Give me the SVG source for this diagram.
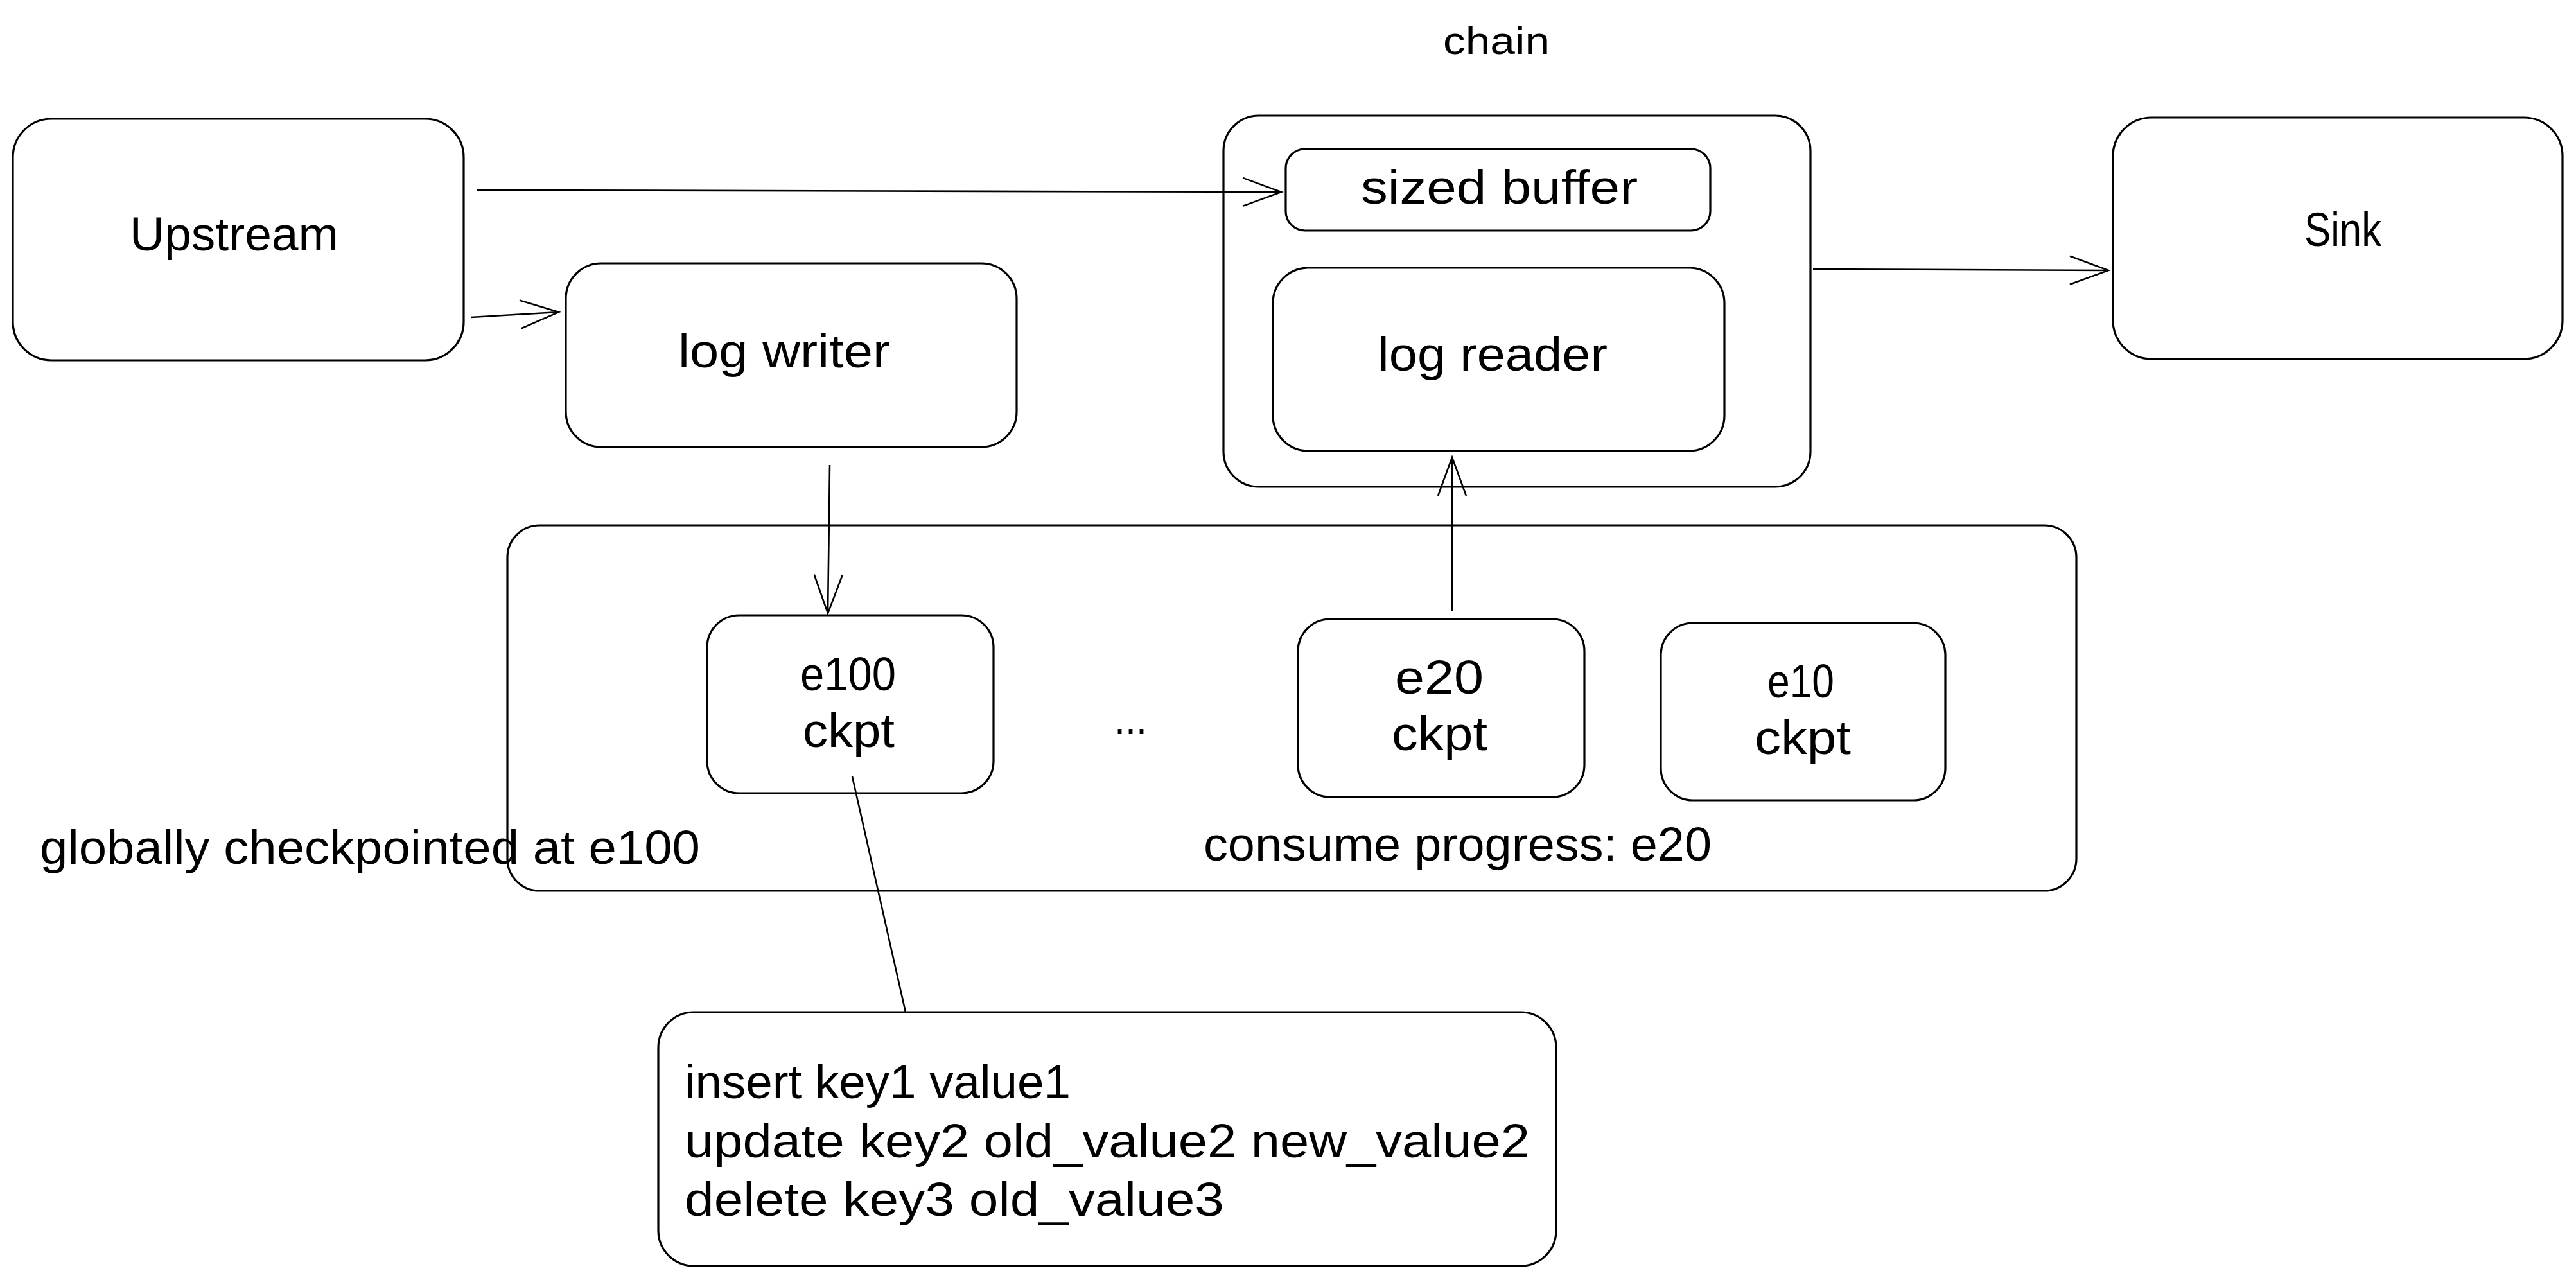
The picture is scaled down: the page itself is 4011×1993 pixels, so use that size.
<svg xmlns="http://www.w3.org/2000/svg" width="4011" height="1993" viewBox="0 0 4011 1993">
<defs>
<style>
.box{fill:#ffffff;stroke:#000000;stroke-width:3.2}
.lbl{font-family:"Liberation Sans",Arial,sans-serif;font-size:74px;fill:#000000}
.small{font-size:60px}
.conn{fill:none;stroke:#000000;stroke-width:2.6}
</style>
<marker id="arrow" markerUnits="userSpaceOnUse" markerWidth="80" markerHeight="60" viewBox="-70 -30 80 60" refX="0" refY="0" orient="auto" overflow="visible">
<path d="M -60 -22 L 0 0 L -60 22" fill="none" stroke="#000000" stroke-width="2.6"/>
</marker>
</defs>
<rect width="4011" height="1993" fill="#ffffff"/>

<g id="storage">
<rect class="box" x="790" y="818" width="2443" height="569" rx="50" ry="50"/>
<text class="lbl" x="62" y="1345" textLength="1028" lengthAdjust="spacingAndGlyphs">globally checkpointed at e100</text>
<text class="lbl" x="1874" y="1340" textLength="791" lengthAdjust="spacingAndGlyphs">consume progress: e20</text>
<text class="lbl" x="1735" y="1143" textLength="51" lengthAdjust="spacingAndGlyphs">...</text>
</g>

<g id="upstream">
<rect class="box" x="20" y="185" width="702" height="376" rx="60" ry="60"/>
<text class="lbl" x="202" y="390" textLength="325" lengthAdjust="spacingAndGlyphs">Upstream</text>
</g>

<g id="log-writer">
<rect class="box" x="881" y="410" width="702" height="286" rx="55" ry="55"/>
<text class="lbl" x="1056" y="572" textLength="330" lengthAdjust="spacingAndGlyphs">log writer</text>
</g>

<g id="chain">
<rect class="box" x="1905" y="180" width="914" height="578" rx="55" ry="55"/>
<text class="lbl small" x="2247" y="84" textLength="166" lengthAdjust="spacingAndGlyphs">chain</text>
</g>

<g id="sized-buffer">
<rect class="box" x="2002" y="232" width="661" height="127" rx="30" ry="30"/>
<text class="lbl" x="2119" y="317" textLength="431" lengthAdjust="spacingAndGlyphs">sized buffer</text>
</g>

<g id="log-reader">
<rect class="box" x="1982" y="417" width="703" height="285" rx="55" ry="55"/>
<text class="lbl" x="2145" y="577" textLength="358" lengthAdjust="spacingAndGlyphs">log reader</text>
</g>

<g id="sink">
<rect class="box" x="3290" y="183" width="700" height="376" rx="60" ry="60"/>
<text class="lbl" x="3588" y="383" textLength="120" lengthAdjust="spacingAndGlyphs">Sink</text>
</g>

<g id="e100-ckpt">
<rect class="box" x="1101" y="958" width="446" height="277" rx="50" ry="50"/>
<text class="lbl" x="1246" y="1075" textLength="149" lengthAdjust="spacingAndGlyphs">e100</text>
<text class="lbl" x="1250" y="1163" textLength="143" lengthAdjust="spacingAndGlyphs">ckpt</text>
</g>

<g id="e20-ckpt">
<rect class="box" x="2021" y="964" width="446" height="277" rx="50" ry="50"/>
<text class="lbl" x="2172" y="1080" textLength="138" lengthAdjust="spacingAndGlyphs">e20</text>
<text class="lbl" x="2167" y="1168" textLength="149" lengthAdjust="spacingAndGlyphs">ckpt</text>
</g>

<g id="e10-ckpt">
<rect class="box" x="2586" y="970" width="443" height="276" rx="50" ry="50"/>
<text class="lbl" x="2752" y="1086" textLength="104" lengthAdjust="spacingAndGlyphs">e10</text>
<text class="lbl" x="2732" y="1174" textLength="150" lengthAdjust="spacingAndGlyphs">ckpt</text>
</g>

<g id="log-entries">
<rect class="box" x="1025" y="1576" width="1398" height="395" rx="55" ry="55"/>
<text class="lbl" x="1066" y="1710" textLength="601" lengthAdjust="spacingAndGlyphs">insert key1 value1</text>
<text class="lbl" x="1066" y="1802" textLength="1316" lengthAdjust="spacingAndGlyphs">update key2 old_value2 new_value2</text>
<text class="lbl" x="1066" y="1893" textLength="840" lengthAdjust="spacingAndGlyphs">delete key3 old_value3</text>
</g>

<g id="connectors">
<path class="conn" d="M 742 296 L 1995 299" marker-end="url(#arrow)"/>
<path class="conn" d="M 733 494 L 870 486" marker-end="url(#arrow)"/>
<path class="conn" d="M 2823 419 L 3283 421" marker-end="url(#arrow)"/>
<path class="conn" d="M 1292 724 L 1289 955" marker-end="url(#arrow)"/>
<path class="conn" d="M 2261 952 L 2261 712" marker-end="url(#arrow)"/>
<path class="conn" d="M 1327 1209 L 1410 1576"/>
</g>
</svg>
